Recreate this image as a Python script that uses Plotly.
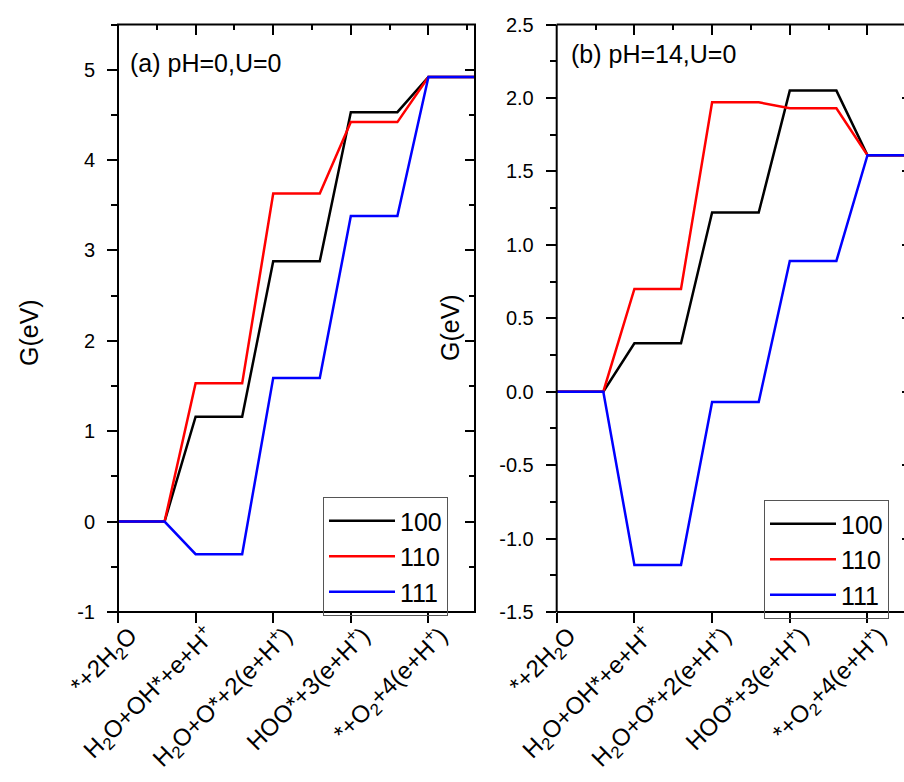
import plotly.graph_objects as go

# ---------------- data ----------------
states = [
    "*+2H<sub>2</sub>O",
    "H<sub>2</sub>O+OH*+e+H<sup>+</sup>",
    "H<sub>2</sub>O+O*+2(e+H<sup>+</sup>)",
    "HOO*+3(e+H<sup>+</sup>)",
    "*+O<sub>2</sub>+4(e+H<sup>+</sup>)",
]
series_names = ["100", "110", "111"]
series_colors = ["#000000", "#ff0000", "#0000ff"]

# (a) pH=0, U=0
g_ph0_100 = [0.0, 1.16, 2.88, 4.53, 4.92]
g_ph0_110 = [0.0, 1.53, 3.63, 4.42, 4.92]
g_ph0_111 = [0.0, -0.36, 1.59, 3.38, 4.92]

# (b) pH=14, U=0
g_ph14_100 = [0.0, 0.33, 1.22, 2.05, 1.61]
g_ph14_110 = [0.0, 0.70, 1.97, 1.93, 1.61]
g_ph14_111 = [0.0, -1.18, -0.07, 0.89, 1.61]

# y tick values
yticks_a = [-1, 0, 1, 2, 3, 4, 5]
yticks_b = [-1.5, -1.0, -0.5, 0.0, 0.5, 1.0, 1.5, 2.0, 2.5]

STEP_W = 0.6  # width of each flat level (category units)


def step_xy(vals):
    xs, ys = [], []
    for i, v in enumerate(vals):
        xs += [i, i + STEP_W]
        ys += [v, v]
    return xs, ys


W, H = 904, 782
FONT = "Arial, Liberation Sans, sans-serif"

fig = go.Figure()

# the first series sits on the bottom/left subplot, the others on a twin
# subplot (same domain) that carries the top/right frame ticks
panel_a_axes = [("x", "y"), ("x3", "y3"), ("x3", "y3")]
panel_b_axes = [("x2", "y2"), ("x4", "y4"), ("x4", "y4")]

for vals, name, col, (xa, ya) in zip([g_ph0_100, g_ph0_110, g_ph0_111], series_names,
                                      series_colors, panel_a_axes):
    xs, ys = step_xy(vals)
    fig.add_trace(go.Scatter(x=xs, y=ys, mode="lines", name=name,
                             line=dict(color=col, width=2.5),
                             xaxis=xa, yaxis=ya, legend="legend"))

for vals, name, col, (xa, ya) in zip([g_ph14_100, g_ph14_110, g_ph14_111], series_names,
                                      series_colors, panel_b_axes):
    xs, ys = step_xy(vals)
    fig.add_trace(go.Scatter(x=xs, y=ys, mode="lines", name=name,
                             line=dict(color=col, width=2.5),
                             xaxis=xa, yaxis=ya, legend="legend2"))


def px(x):
    return x / W


def py(y):
    return (H - y) / H


dom_y = [py(612), py(24.5)]
dom_xa = [px(118), px(475)]
dom_xb = [px(556.7), 1.0]

rng_xa = [0, 4.6]
rng_xb = [0, 4.47]
rng_ya = [-1, 5.5]
rng_yb = [-1.5, 2.5]

base = dict(showline=False, tickcolor="black", tickwidth=2,
            showgrid=False, zeroline=False, automargin=False)
tfx = dict(family=FONT, size=24, color="black")
tfy = dict(family=FONT, size=20, color="black")


def minor(kind, length, step):
    return dict(ticks=kind, ticklen=length, tickwidth=2, tickcolor="black",
                tickmode="linear", dtick=step, tick0=0, showgrid=False)


xbottom = dict(ticks="outside", ticklen=10, tickmode="array",
               tickvals=list(range(len(states))), ticktext=states, tickangle=-45,
               tickfont=tfx, ticklabelshift=12, ticklabelstandoff=-11, **base)

fig.update_layout(
    template="none",
    width=W, height=H,
    margin=dict(l=0, r=0, t=0, b=0, autoexpand=False),
    paper_bgcolor="white", plot_bgcolor="rgba(0,0,0,0)",
    # ---- panel (a)
    xaxis=dict(domain=dom_xa, anchor="y", range=rng_xa, **xbottom),
    yaxis=dict(domain=dom_y, anchor="x", range=rng_ya, ticks="outside", ticklen=10,
               tickmode="array", tickvals=yticks_a, ticktext=["%d" % v for v in yticks_a],
               tickfont=tfy, ticklabelstandoff=8, minor=minor("outside", 6, 0.5), **base),
    xaxis3=dict(domain=dom_xa, anchor="y3", side="top", range=rng_xa, ticks="inside",
                ticklen=10, tickmode="linear", tick0=0, dtick=1,
                minor=minor("inside", 5, 0.5), showticklabels=False, **base),
    yaxis3=dict(domain=dom_y, anchor="x3", side="right", range=rng_ya, ticks="inside",
                ticklen=10, tickmode="linear", tick0=0, dtick=1,
                minor=minor("inside", 6, 0.5), showticklabels=False, **base),
    # ---- panel (b)
    xaxis2=dict(domain=dom_xb, anchor="y2", range=rng_xb, **xbottom),
    yaxis2=dict(domain=dom_y, anchor="x2", range=rng_yb, ticks="outside", ticklen=10,
                tickmode="array", tickvals=yticks_b, ticktext=["%.1f" % v for v in yticks_b],
                tickfont=tfy, ticklabelstandoff=8, minor=minor("outside", 6, 0.25), **base),
    xaxis4=dict(domain=dom_xb, anchor="y4", side="top", range=rng_xb, ticks="inside",
                ticklen=10, tickmode="linear", tick0=0, dtick=1,
                minor=minor("inside", 5, 0.5), showticklabels=False, **base),
    yaxis4=dict(domain=dom_y, anchor="x4", side="right", range=rng_yb, ticks="inside",
                ticklen=2, tickmode="linear", tick0=0, dtick=0.5, showticklabels=False,
                **base),
    legend=dict(x=px(323), y=py(497), xanchor="left", yanchor="top",
                bgcolor="rgba(255,255,255,0)", bordercolor="#555555", borderwidth=1,
                font=dict(family=FONT, size=25, color="black"), itemwidth=66, tracegroupgap=0),
    legend2=dict(x=px(764), y=py(500), xanchor="left", yanchor="top",
                 bgcolor="rgba(255,255,255,0)", bordercolor="#555555", borderwidth=1,
                 font=dict(family=FONT, size=25, color="black"), itemwidth=66, tracegroupgap=0),
)

# frame lines, referenced to each panel's axis domains
frame = dict(color="black", width=2)
fig.add_shape(type="rect", xref="x domain", yref="y domain", x0=0, x1=1, y0=0, y1=1,
              line=frame, layer="above")
for x0, x1, y0, y1 in [(0, 0, 0, 1), (0, 1, 0, 0), (0, 1, 1, 1)]:
    fig.add_shape(type="line", xref="x2 domain", yref="y2 domain", x0=x0, x1=x1, y0=y0, y1=y1,
                  line=frame, layer="above")

annots = [
    dict(text="G(eV)", x=px(29), y=py(333), textangle=-90),
    dict(text="G(eV)", x=px(450), y=py(328), textangle=-90),
    dict(text="(a) pH=0,U=0", x=px(128), y=py(63), xanchor="left"),
    dict(text="(b) pH=14,U=0", x=px(569), y=py(54), xanchor="left"),
]
for a in annots:
    fig.add_annotation(xref="paper", yref="paper", showarrow=False,
                       font=dict(family=FONT, size=25, color="black"),
                       xanchor=a.get("xanchor", "center"), yanchor="middle",
                       **{k: v for k, v in a.items() if k != "xanchor"})

fig.write_html("out.html")
